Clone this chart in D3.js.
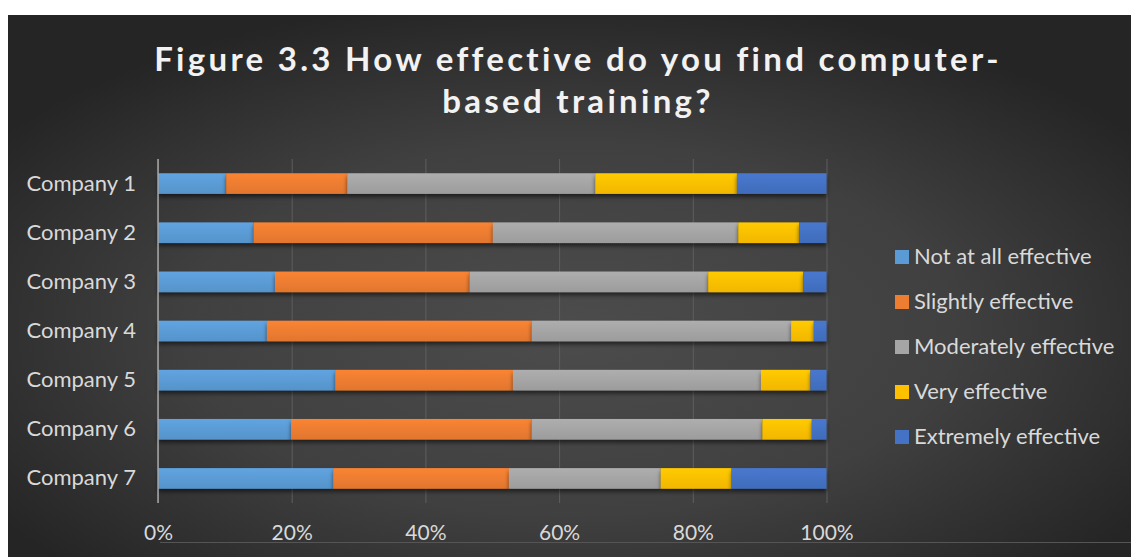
<!DOCTYPE html>
<html>
<head>
<meta charset="utf-8">
<script src="https://cdn.jsdelivr.net/npm/d3@7"></script>
<style>
  html, body { margin: 0; padding: 0; background: #ffffff; }
  svg { display: block; }
  text { font-family: Lato, "Open Sans", sans-serif; }
</style>
</head>
<body>
<svg id="chart" width="1131" height="557"></svg>
<script>
const categories = ["Company 1", "Company 2", "Company 3", "Company 4", "Company 5", "Company 6", "Company 7"];
const seriesNames = ["Not at all effective", "Slightly effective", "Moderately effective", "Very effective", "Extremely effective"];
const notAtAll   = [10.2, 14.3, 17.5, 16.3, 26.5, 19.9, 26.2];
const slightly   = [18.1, 35.8, 29.1, 39.6, 26.6, 36.0, 26.3];
const moderately = [37.1, 36.7, 35.7, 38.8, 37.1, 34.5, 22.7];
const very       = [21.2,  9.1, 14.2,  3.4,  7.4,  7.4, 10.6];
const extremely  = [13.4,  4.1,  3.5,  1.9,  2.4,  2.2, 14.2];
const tickLabels = ["0%", "20%", "40%", "60%", "80%", "100%"];
const colors = ["#5B9BD5", "#ED7D31", "#A5A5A5", "#FFC000", "#4472C4"];
const titleLines = ["Figure 3.3 How effective do you find computer-", "based training?"];

const seriesValues = [notAtAll, slightly, moderately, very, extremely];
const rows = categories.map((c, i) => {
  const o = { category: c };
  seriesNames.forEach((s, k) => { o[s] = seriesValues[k][i]; });
  return o;
});

const svg = d3.select("#chart");
const defs = svg.append("defs");

const bg = defs.append("radialGradient").attr("id", "bg")
  .attr("cx", "50%").attr("cy", "58%").attr("r", "62%");
bg.append("stop").attr("offset", "0%").attr("stop-color", "#4c4c4c");
bg.append("stop").attr("offset", "55%").attr("stop-color", "#404040");
bg.append("stop").attr("offset", "100%").attr("stop-color", "#252525");

colors.forEach((c, k) => {
  const g = defs.append("linearGradient").attr("id", "g" + k)
    .attr("x1", 0).attr("y1", 0).attr("x2", 0).attr("y2", 1);
  g.append("stop").attr("offset", "0%").attr("stop-color", d3.color(c).brighter(0.15));
  g.append("stop").attr("offset", "100%").attr("stop-color", d3.color(c).darker(0.15));
});

const shadow = defs.append("filter").attr("id", "shadow")
  .attr("x", "-5%").attr("y", "-30%").attr("width", "110%").attr("height", "190%");
shadow.append("feDropShadow").attr("dx", 0).attr("dy", 3).attr("stdDeviation", 2)
  .attr("flood-color", "#000").attr("flood-opacity", 0.55);

// background
svg.append("rect").attr("x", 8).attr("y", 15).attr("width", 1123).attr("height", 542)
  .attr("fill", "url(#bg)");
svg.append("line").attr("x1", 160).attr("x2", 1131).attr("y1", 542.5).attr("y2", 542.5)
  .attr("stroke", "#555555").attr("stroke-width", 1);

// title
const title = svg.append("text").attr("text-anchor", "middle")
  .attr("fill", "#f2f2f2").attr("font-weight", "bold").attr("font-size", 33)
  .style("letter-spacing", "3.3px");
titleLines.forEach((t, i) => {
  title.append("tspan").attr("x", 578).attr("y", 71 + i * 42).text(t);
});

const x = d3.scaleLinear().domain([0, 100]).range([158, 826.5]);
const y = d3.scaleBand().domain(categories).range([159, 503]).paddingInner(0.58).paddingOuter(0.29);

// gridlines
const grid = svg.append("g").attr("transform", "translate(0,503)")
  .call(d3.axisBottom(x).tickValues([0, 20, 40, 60, 80, 100]).tickSize(-344).tickFormat(""));
grid.select(".domain").remove();
grid.selectAll("line").attr("stroke", "#5e5e5e").attr("stroke-width", 1);

// bars
const stack = d3.stack().keys(seriesNames);
const stacked = stack(rows);
svg.append("g").selectAll("g").data(stacked).join("g")
  .attr("fill", (d, k) => `url(#g${k})`)
  .attr("filter", "url(#shadow)")
  .selectAll("rect").data(d => d).join("rect")
  .attr("x", d => x(d[0]))
  .attr("y", d => y(d.data.category))
  .attr("width", d => x(d[1]) - x(d[0]))
  .attr("height", y.bandwidth());

// vertical axis
const yAxis = svg.append("g").attr("transform", "translate(158,0)")
  .call(d3.axisLeft(y).tickSize(0).tickPadding(22));
yAxis.select(".domain").attr("stroke", "#a6a6a6").attr("stroke-width", 1.5)
  .attr("d", "M0,159V503");
yAxis.selectAll("text").attr("fill", "#d9d9d9").attr("font-size", 22)
  .style("font-family", "Lato, 'Open Sans', sans-serif");

// x axis labels
const xAxis = svg.append("g").attr("transform", "translate(0,503)")
  .call(d3.axisBottom(x).tickValues([0, 20, 40, 60, 80, 100]).tickSize(0).tickPadding(22)
    .tickFormat((d, i) => tickLabels[i]));
xAxis.select(".domain").remove();
xAxis.selectAll("text").attr("fill", "#d9d9d9").attr("font-size", 21)
  .style("font-family", "Lato, 'Open Sans', sans-serif");

// legend
const legend = svg.append("g");
seriesNames.forEach((s, k) => {
  const gy = 264 + k * 45;
  legend.append("rect").attr("x", 895).attr("y", gy - 14).attr("width", 14).attr("height", 14)
    .attr("fill", colors[k]);
  legend.append("text").attr("x", 914).attr("y", gy).attr("fill", "#d9d9d9")
    .attr("font-size", 22).text(s);
});
</script>
</body>
</html>
